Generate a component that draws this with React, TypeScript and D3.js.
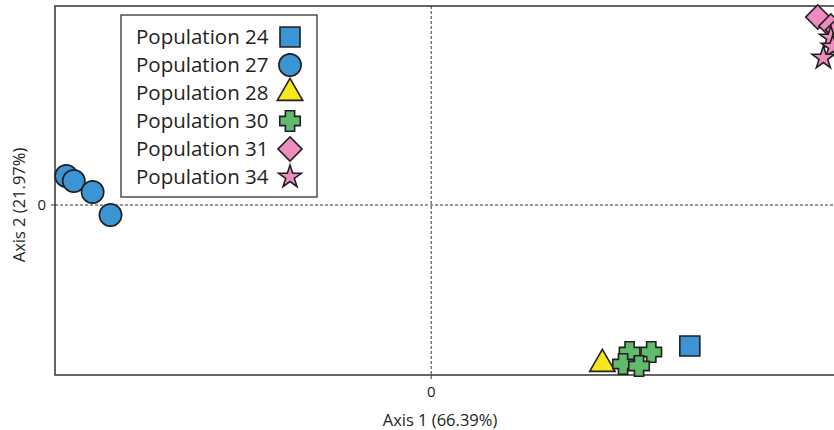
// PcoaChart.tsx
import React, { useEffect, useRef } from 'react';
import * as d3 from 'd3';

// population names shown in legend
const populations = ['Population 24', 'Population 27', 'Population 28', 'Population 30', 'Population 31', 'Population 34'];
const colors = ['#3b95d4', '#3b95d4', '#f7e81c', '#62bb6c', '#ee8cbf', '#ee8cbf'];

// coordinates (axis 1, axis 2) for each sample
const pop24 = [[0.275, -0.282]];
const pop27 = [[-0.388, 0.058], [-0.380, 0.048], [-0.360, 0.026], [-0.341, -0.020]];
const pop28 = [[0.182, -0.318]];
const pop30 = [[0.211, -0.294], [0.234, -0.294], [0.204, -0.318], [0.221, -0.322]];
const pop31 = [[0.411, 0.376], [0.425, 0.358], [0.432, 0.350]];
const pop34 = [[0.425, 0.334], [0.427, 0.316], [0.417, 0.294]];

const axis1Label = 'Axis 1 (66.39%)';
const axis2Label = 'Axis 2 (21.97%)';

// chunky plus sign, arms a bit wider than d3's cross
const symbolPlus = {
  draw(context, size) {
    const b = Math.sqrt(size) / 2;
    const a = b * 0.45;
    context.moveTo(-a, -b);
    context.lineTo(a, -b);
    context.lineTo(a, -a);
    context.lineTo(b, -a);
    context.lineTo(b, a);
    context.lineTo(a, a);
    context.lineTo(a, b);
    context.lineTo(-a, b);
    context.lineTo(-a, a);
    context.lineTo(-b, a);
    context.lineTo(-b, -a);
    context.lineTo(-a, -a);
    context.closePath();
  },
};

const Chart = () => {
  const svgRef = useRef(null);

  useEffect(() => {
    const svg = d3.select(svgRef.current);
    svg.selectAll('*').remove();

    const font = '"Open Sans", sans-serif';
    const ink = '#231f20';

    const margin = { left: 55, top: 6, right: -11, bottom: 55 };
    const width = 834, height = 430;

    const x = d3.scaleLinear().domain([-0.4, 0.44]).range([margin.left, width - margin.right]);
    const y = d3.scaleLinear().domain([-0.34, 0.398]).range([height - margin.bottom, margin.top]);

    // shapes per population
    const shapes = [
      { type: d3.symbolSquare, size: 400, rot: 0 },
      { type: d3.symbolCircle, size: 390, rot: 0 },
      { type: d3.symbolTriangle, size: 280, rot: 0 },
      { type: symbolPlus, size: 420, rot: 0 },
      { type: d3.symbolSquare, size: 290, rot: 45 },
      { type: d3.symbolStar, size: 160, rot: 0 },
    ];
    const sets = [pop24, pop27, pop28, pop30, pop31, pop34];

    // frame
    svg.append('rect')
      .attr('x', x.range()[0])
      .attr('y', y.range()[1])
      .attr('width', x.range()[1] - x.range()[0])
      .attr('height', y.range()[0] - y.range()[1])
      .attr('fill', 'none')
      .attr('stroke', '#333')
      .attr('stroke-width', 1.5);

    // zero lines
    svg.append('line')
      .attr('x1', x(0)).attr('x2', x(0))
      .attr('y1', y.range()[1]).attr('y2', y.range()[0])
      .attr('stroke', '#333').attr('stroke-dasharray', '3,2');
    svg.append('line')
      .attr('x1', x.range()[0]).attr('x2', x.range()[1])
      .attr('y1', y(0)).attr('y2', y(0))
      .attr('stroke', '#333').attr('stroke-dasharray', '3,2');

    // ticks
    svg.append('line')
      .attr('x1', x(0)).attr('x2', x(0))
      .attr('y1', y.range()[0]).attr('y2', y.range()[0] + 4)
      .attr('stroke', '#333');
    svg.append('line')
      .attr('x1', x.range()[0] - 4).attr('x2', x.range()[0])
      .attr('y1', y(0)).attr('y2', y(0))
      .attr('stroke', '#333');

    svg.append('text')
      .attr('x', x(0)).attr('y', y.range()[0] + 22)
      .attr('text-anchor', 'middle')
      .attr('font-family', font).attr('font-size', 15).attr('fill', ink)
      .text('0');
    svg.append('text')
      .attr('x', x.range()[0] - 9).attr('y', y(0) + 5)
      .attr('text-anchor', 'end')
      .attr('font-family', font).attr('font-size', 15).attr('fill', ink)
      .text('0');

    // axis titles
    svg.append('text')
      .attr('x', 440).attr('y', 426)
      .attr('text-anchor', 'middle')
      .attr('font-family', font).attr('font-size', 16.5).attr('fill', ink)
      .text(axis1Label);
    svg.append('text')
      .attr('transform', `translate(25,${y(0)}) rotate(-90)`)
      .attr('text-anchor', 'middle')
      .attr('font-family', font).attr('font-size', 16.5).attr('fill', ink)
      .text(axis2Label);

    // points
    sets.forEach((pts, i) => {
      const s = shapes[i];
      svg.append('g')
        .selectAll('path')
        .data(pts)
        .enter()
        .append('path')
        .attr('d', d3.symbol().type(s.type).size(s.size))
        .attr('transform', (d) => `translate(${x(d[0])},${y(d[1])}) rotate(${s.rot})`)
        .attr('fill', colors[i])
        .attr('stroke', ink)
        .attr('stroke-width', 1.6);
    });

    // legend
    const legend = svg.append('g').attr('transform', 'translate(121,15)');
    legend.append('rect')
      .attr('width', 196).attr('height', 182)
      .attr('fill', 'white').attr('stroke', '#333').attr('stroke-width', 1.3);

    populations.forEach((p, i) => {
      const cy = 22 + i * 28;
      legend.append('text')
        .attr('x', 15).attr('y', cy + 7)
        .attr('font-family', font).attr('font-size', 20.5).attr('fill', ink)
        .text(p);
      const s = shapes[i];
      legend.append('path')
        .attr('d', d3.symbol().type(s.type).size(s.size))
        .attr('transform', `translate(169,${cy}) rotate(${s.rot})`)
        .attr('fill', colors[i])
        .attr('stroke', ink)
        .attr('stroke-width', 1.6);
    });
  }, []);

  return (
    <svg
      ref={svgRef}
      width={834}
      height={430}
      style={{ position: 'fixed', left: 0, top: 0, background: 'white' }}
    ></svg>
  );
};

export default function App() {
  return <Chart />;
}
